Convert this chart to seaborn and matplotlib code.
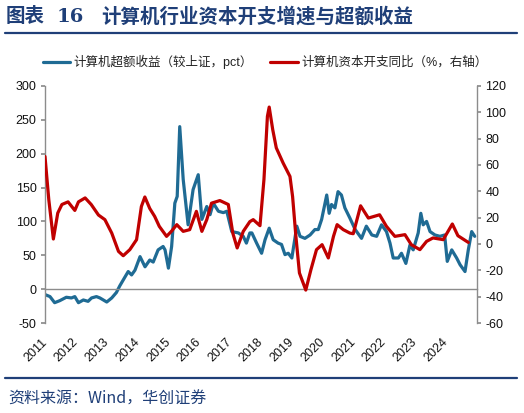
import pandas as pd
import matplotlib
matplotlib.use("Agg")
import matplotlib.pyplot as plt
from matplotlib.lines import Line2D
import seaborn as sns

# 计算机超额收益（较上证，pct）
blue_dates = ['2011-01-01', '2011-03-01', '2011-04-25', '2011-06-25', '2011-09-10', '2011-11-10',
              '2011-12-20', '2012-02-01', '2012-03-30', '2012-05-25', '2012-07-05', '2012-09-01',
              '2012-10-12', '2013-01-01', '2013-03-01', '2013-04-25', '2013-06-05', '2013-08-05',
              '2013-09-12', '2013-10-22', '2013-12-01', '2014-01-30', '2014-03-30', '2014-05-25',
              '2014-07-05', '2014-09-01', '2014-10-30', '2014-11-22', '2015-01-01', '2015-02-08',
              '2015-03-18', '2015-04-15', '2015-05-15', '2015-06-25', '2015-08-22', '2015-10-20',
              '2015-12-20', '2016-02-01', '2016-03-30', '2016-05-08', '2016-06-15', '2016-08-15',
              '2016-10-12', '2016-11-22', '2017-01-20', '2017-04-08', '2017-06-05', '2017-07-12',
              '2017-08-22', '2017-09-15', '2017-11-10', '2018-01-08', '2018-02-18', '2018-04-08',
              '2018-05-25', '2018-07-22', '2018-09-01', '2018-10-12', '2018-11-20', '2019-01-01',
              '2019-03-01', '2019-04-08', '2019-06-05', '2019-08-05', '2019-10-01', '2019-11-10',
              '2019-12-20', '2020-02-18', '2020-03-18', '2020-04-15', '2020-05-25', '2020-07-01',
              '2020-08-10', '2020-09-20', '2020-11-18', '2021-01-20', '2021-04-05', '2021-06-01',
              '2021-08-05', '2021-10-01', '2021-11-28', '2022-01-25', '2022-03-08', '2022-04-15',
              '2022-06-15', '2022-07-22', '2022-09-12', '2022-10-30', '2022-12-08', '2023-02-05',
              '2023-03-08', '2023-04-05', '2023-05-15', '2023-06-25', '2023-08-22', '2023-10-20',
              '2023-12-15', '2024-01-15', '2024-03-08', '2024-05-05', '2024-06-15', '2024-08-12',
              '2024-09-20', '2024-10-30', '2024-12-05']
blue_values = [-8, -11, -20, -17, -12, -13,
               -11, -20, -16, -18, -13, -11,
               -13, -19, -13, -5, 5, 18,
               26, 21, 28, 48, 33, 43,
               40, 58, 63, 58, 31, 63,
               127, 137, 240, 162, 95, 147,
               169, 103, 122, 110, 127, 115,
               113, 115, 85, 83, 78, 68,
               83, 83, 68, 53, 73, 90,
               73, 68, 66, 51, 53, 46,
               93, 78, 75, 80, 88, 88,
               103, 139, 112, 125, 120, 144,
               139, 120, 105, 88, 75, 93,
               80, 78, 95, 85, 68, 46,
               46, 53, 38, 65, 58, 83,
               112, 95, 100, 85, 80, 78,
               80, 41, 58, 46, 36, 26,
               58, 85, 78]

# 计算机资本开支同比（%，右轴）
red_dates = ['2011-01-01', '2011-02-15', '2011-04-10', '2011-06-01', '2011-07-20', '2011-10-01',
             '2011-12-20', '2012-02-01', '2012-04-20', '2012-07-01', '2012-09-25', '2012-12-10',
             '2013-03-01', '2013-05-20', '2013-07-15', '2013-10-01', '2013-12-20', '2014-02-15',
             '2014-03-28', '2014-05-25', '2014-07-22', '2014-09-15', '2014-12-10', '2015-02-05',
             '2015-04-10', '2015-06-25', '2015-09-10', '2015-11-28', '2016-02-01', '2016-03-30',
             '2016-05-25', '2016-09-01', '2016-12-10', '2017-02-01', '2017-03-25', '2017-06-05',
             '2017-08-22', '2017-10-01', '2017-12-20', '2018-02-05', '2018-03-18', '2018-04-08',
             '2018-05-20', '2018-07-01', '2018-09-20', '2018-12-10', '2019-01-10', '2019-02-18',
             '2019-04-01', '2019-06-15', '2019-08-15', '2019-10-20', '2019-12-25', '2020-03-08',
             '2020-05-08', '2020-06-20', '2020-09-01', '2020-11-18', '2020-12-28', '2021-03-25',
             '2021-06-25', '2021-11-05', '2022-01-25', '2022-05-05', '2022-09-01', '2022-11-15',
             '2023-02-25', '2023-05-15', '2023-07-30', '2023-11-28', '2024-03-15', '2024-05-20',
             '2024-09-20']
red_values = [66.5, 33.6, 3.8, 23.5, 30, 32,
              25.5, 32, 35, 30, 22, 18.5,
              8.3, -5.6, -8.9, -4.3, 3.3, 28.5,
              35.7, 27, 21, 13.4, 5.8, 9.6,
              14.7, 9.6, 10.9, 24.8, 9.6, 18.5,
              31, 33, 30, 8.3, -3, 9.6,
              17, 18.5, 13.9, 49, 97, 104,
              86.8, 73, 61.5, 51.3, 36, 5.8,
              -22, -35, -19.5, -4.3, -0.5, -10.6,
              5.8, 14.7, 10.9, 8.3, 7.8, 29,
              19.7, 22.2, 13.4, 5.8, 7.1, -0.5,
              -4.3, 2, 4.6, 3.3, 15.2, 6.3,
              1.2]

blue_name = '计算机超额收益（较上证，pct）'
red_name = '计算机资本开支同比（%，右轴）'
year_ticks = [str(y) for y in range(2011, 2026)]
year_labels = [str(y) for y in range(2011, 2025)] + ['']

df_blue = pd.DataFrame({'date': pd.to_datetime(blue_dates), 'value': blue_values})
df_red = pd.DataFrame({'date': pd.to_datetime(red_dates), 'value': red_values})

sns.set_theme(style="white")
plt.rcParams['font.family'] = ['Liberation Sans', 'Noto Sans CJK SC', 'DejaVu Sans']
plt.rcParams['axes.unicode_minus'] = False

navy = '#1F3F78'
blue = '#1F6B94'
red = '#C00000'
grey = '#8C8C8C'

fig = plt.figure(figsize=(5.24, 4.13), dpi=100)
ax = fig.add_axes([45 / 524, 1 - 323 / 413, (477 - 45) / 524, (323 - 86) / 413])
ax2 = ax.twinx()

sns.lineplot(data=df_blue, x='date', y='value', ax=ax, color=blue, linewidth=2.3)
sns.lineplot(data=df_red, x='date', y='value', ax=ax2, color=red, linewidth=2.3)

ax.set_xlim(pd.Timestamp('2011-01-01'), pd.Timestamp('2025-01-01'))
ax.set_ylim(-50, 300)
ax2.set_ylim(-60, 120)
ax.set_yticks(range(-50, 301, 50))
ax2.set_yticks(range(-60, 121, 20))
ax.set_xlabel('')
ax.set_ylabel('')
ax2.set_ylabel('')

# x轴放在0值处
ax.spines['bottom'].set_position(('data', 0))
for a in (ax, ax2):
    a.spines['top'].set_visible(False)
    a.spines['bottom'].set_visible(a is ax)
    for s in a.spines.values():
        s.set_color(grey)
        s.set_linewidth(1.0)
ax.spines['right'].set_visible(False)
ax2.spines['left'].set_visible(False)

ax.tick_params(axis='x', direction='out', length=3, color=grey, pad=34, labelsize=9,
               labelcolor='#111111', labelrotation=45)
ax.tick_params(axis='y', direction='out', length=3, color=grey, labelsize=9, labelcolor='#111111', pad=3)
ax2.tick_params(axis='y', direction='out', length=3, color=grey, labelsize=9, labelcolor='#111111', pad=3)
ax.set_xticks(pd.to_datetime(year_ticks))
ax.set_xticklabels(year_labels)
for lbl in ax.get_xticklabels():
    lbl.set_rotation(45)
    lbl.set_ha('right')
    lbl.set_va('center')
    lbl.set_rotation_mode('anchor')
ax.grid(False)
ax2.grid(False)

# 图例
handles = [Line2D([], [], color=blue, lw=2.3), Line2D([], [], color=red, lw=2.3)]
fig.legend(handles, [blue_name, red_name], loc='center', bbox_to_anchor=(265 / 524, 1 - 62 / 413),
           ncol=2, frameon=False, fontsize=9, handlelength=2.2, handletextpad=0.25,
           columnspacing=1.4, labelcolor='#222222')

# 标题与来源
title_kw = dict(fontsize=14, fontweight='bold', color=navy, va='center', ha='left',
                family=['Noto Sans CJK SC', 'DejaVu Sans'])
fig.text(6 / 524, 1 - 17 / 413, '图表', **title_kw)
fig.text(57 / 524, 1 - 17 / 413, '16', **dict(title_kw, family=['DejaVu Serif']))
fig.text(101 / 524, 1 - 17 / 413, '计算机行业资本开支增速与超额收益', **title_kw)
fig.add_artist(Line2D([5 / 524, 517 / 524], [1 - 33 / 413] * 2, color=navy, lw=1.6))
fig.add_artist(Line2D([5 / 524, 517 / 524], [1 - 378 / 413] * 2, color=navy, lw=1.6))
fig.text(8 / 524, 1 - 399 / 413, '资料来源：Wind，华创证券', fontsize=11.5, color=navy,
         style='italic', va='center', ha='left', family=['Noto Sans CJK SC', 'DejaVu Serif'])

fig.savefig('out.png', dpi=100)
